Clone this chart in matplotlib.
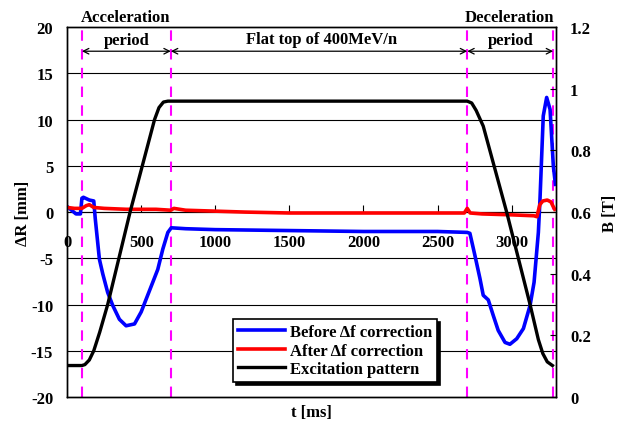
import matplotlib
matplotlib.use("Agg")
import matplotlib.pyplot as plt
from matplotlib.lines import Line2D

plt.rcParams['font.family'] = ['Liberation Serif', 'DejaVu Serif']
plt.rcParams['font.weight'] = 'bold'
plt.rcParams['axes.unicode_minus'] = False

# ---- data ----
t_before = [0, 30, 60, 90, 100, 110, 150, 180, 190, 218, 241, 274, 308, 353, 398, 455, 500,
            534, 578, 612, 646, 680, 703, 800, 1000, 1500, 2000, 2500, 2700, 2718, 2752, 2786,
            2808, 2842, 2876, 2909, 2955, 2988, 3034, 3079, 3124, 3151, 3180, 3191, 3213, 3236,
            3259, 3281, 3295]
dR_before = [0.6, 0.2, -0.2, -0.2, 1.5, 1.6, 1.3, 1.2, -0.7, -5.1, -6.7, -8.7, -10.1, -11.6,
             -12.3, -12.1, -10.8, -9.4, -7.6, -6.2, -4.0, -2.2, -1.7, -1.8, -1.9, -2.0, -2.1,
             -2.1, -2.2, -2.3, -4.7, -7.2, -9.0, -9.5, -11.2, -12.8, -14.1, -14.3, -13.7, -12.6,
             -10.1, -7.6, -2.2, 1.4, 10.4, 12.4, 11.1, 5.0, 3.0]

t_after = [0, 50, 100, 130, 150, 180, 250, 400, 600, 700, 720, 800, 1000, 1200, 1500, 2000,
           2500, 2680, 2700, 2720, 2800, 3000, 3150, 3170, 3190, 3210, 3240, 3265, 3280, 3290]
dR_after = [0.5, 0.4, 0.4, 0.7, 0.8, 0.5, 0.4, 0.3, 0.3, 0.2, 0.4, 0.2, 0.1, 0.0, -0.1, -0.1,
            -0.1, -0.1, 0.4, -0.1, -0.2, -0.3, -0.4, -0.5, 0.8, 1.2, 1.3, 1.1, 0.6, 0.3]

t_exc = [0, 100, 120, 150, 180, 220, 274, 425, 590, 620, 650, 680, 700, 2700, 2730, 2760,
         2808, 2966, 3124, 3180, 3210, 3240, 3275]
B_exc = [0.102, 0.102, 0.105, 0.12, 0.15, 0.21, 0.30, 0.60, 0.90, 0.939, 0.957, 0.96, 0.96,
         0.96, 0.954, 0.93, 0.879, 0.60, 0.30, 0.186, 0.141, 0.114, 0.102]

period_bounds = [100, 700, 2700, 3280]
x_ticks = [0, 500, 1000, 1500, 2000, 2500, 3000]
y_ticks = [-20, -15, -10, -5, 0, 5, 10, 15, 20]
b_ticks = [0, 0.2, 0.4, 0.6, 0.8, 1.0, 1.2]
b_ticklabels = ['0', '0.2', '0.4', '0.6', '0.8', '1', '1.2']
legend_labels = ['Before \u0394f correction', 'After \u0394f correction', 'Excitation pattern']

FS = 12

fig = plt.figure(figsize=(6.27, 4.27), dpi=100)
fig.subplots_adjust(left=0.107, right=0.887, top=0.934, bottom=0.068)
ax = fig.add_subplot(111)
ax2 = ax.twinx()

ax.set_xlim(0, 3300)
ax.set_ylim(-20, 20)
ax2.set_ylim(0, 1.2)

# grid lines
for y in y_ticks[1:-1]:
    ax.axhline(y, color='black', lw=0.8, zorder=1)

# period lines
for xb in period_bounds:
    ax.axvline(xb, color='#FF00FF', lw=1.5, ls=(0, (5, 4)), zorder=2)

ax.plot(t_before, dR_before, color='#0000FF', lw=2.6, zorder=3)
ax.plot(t_after, dR_after, color='#FF0000', lw=2.6, zorder=4)
ax2.plot(t_exc, B_exc, color='black', lw=2.4, zorder=3)

# axes styling
ax.set_xticks([])
ax.set_yticks(y_ticks)
ax.set_yticklabels([str(v) for v in y_ticks])
ax.tick_params(axis='y', length=0, pad=10, labelsize=FS)
ax2.set_yticks(b_ticks)
ax2.set_yticklabels(b_ticklabels)
ax2.tick_params(axis='y', direction='in', length=4, pad=10, labelsize=FS)
for sp in list(ax.spines.values()) + list(ax2.spines.values()):
    sp.set_linewidth(1.0)

sec = ax.secondary_xaxis(0.5)
sec.set_alignment('bottom')
sec.set_xticks(x_ticks)
sec.set_xticklabels([str(v) for v in x_ticks])
sec.tick_params(axis='x', direction='in', length=5, pad=16, labelsize=FS)
sec.spines['bottom'].set_linewidth(0.8)

ax.set_ylabel('\u0394R [mm]', fontsize=FS, fontweight='bold', labelpad=0)
ax2.set_ylabel('B [T]', fontsize=FS, fontweight='bold', labelpad=8)
ax.set_xlabel('t [ms]', fontsize=FS, fontweight='bold', labelpad=5)

# annotations
tkw = dict(fontsize=FS, fontweight='bold', ha='center', va='center', clip_on=False)
ax.text(395, 21.1, 'Acceleration', **tkw)
ax.text(400, 18.6, 'period', **tkw)
ax.text(1720, 18.7, 'Flat top of 400MeV/n', **tkw)
ax.text(2985, 21.1, 'Deceleration', **tkw)
ax.text(2990, 18.6, 'period', **tkw)
arrow_y = 17.4
for a, b in zip(period_bounds[:-1], period_bounds[1:]):
    ax.annotate('', xy=(b, arrow_y), xytext=(a, arrow_y),
                arrowprops=dict(arrowstyle='<->', color='black', lw=0.9,
                                shrinkA=0, shrinkB=0, mutation_scale=10))

handles = [Line2D([], [], color='#0000FF', lw=2.6),
           Line2D([], [], color='#FF0000', lw=2.6),
           Line2D([], [], color='black', lw=2.4)]
leg = ax2.legend(handles, legend_labels, loc='lower left', bbox_to_anchor=(0.339, 0.04),
                 fontsize=FS, frameon=True, fancybox=False, framealpha=1,
                 edgecolor='black', handlelength=2.8, handletextpad=0.3,
                 labelspacing=0.15, borderpad=0.3, borderaxespad=0,
                 shadow={'color': 'black', 'alpha': 1})
leg.get_frame().set_linewidth(1.2)
leg.set_zorder(10)

fig.savefig('out.png', dpi=100)
